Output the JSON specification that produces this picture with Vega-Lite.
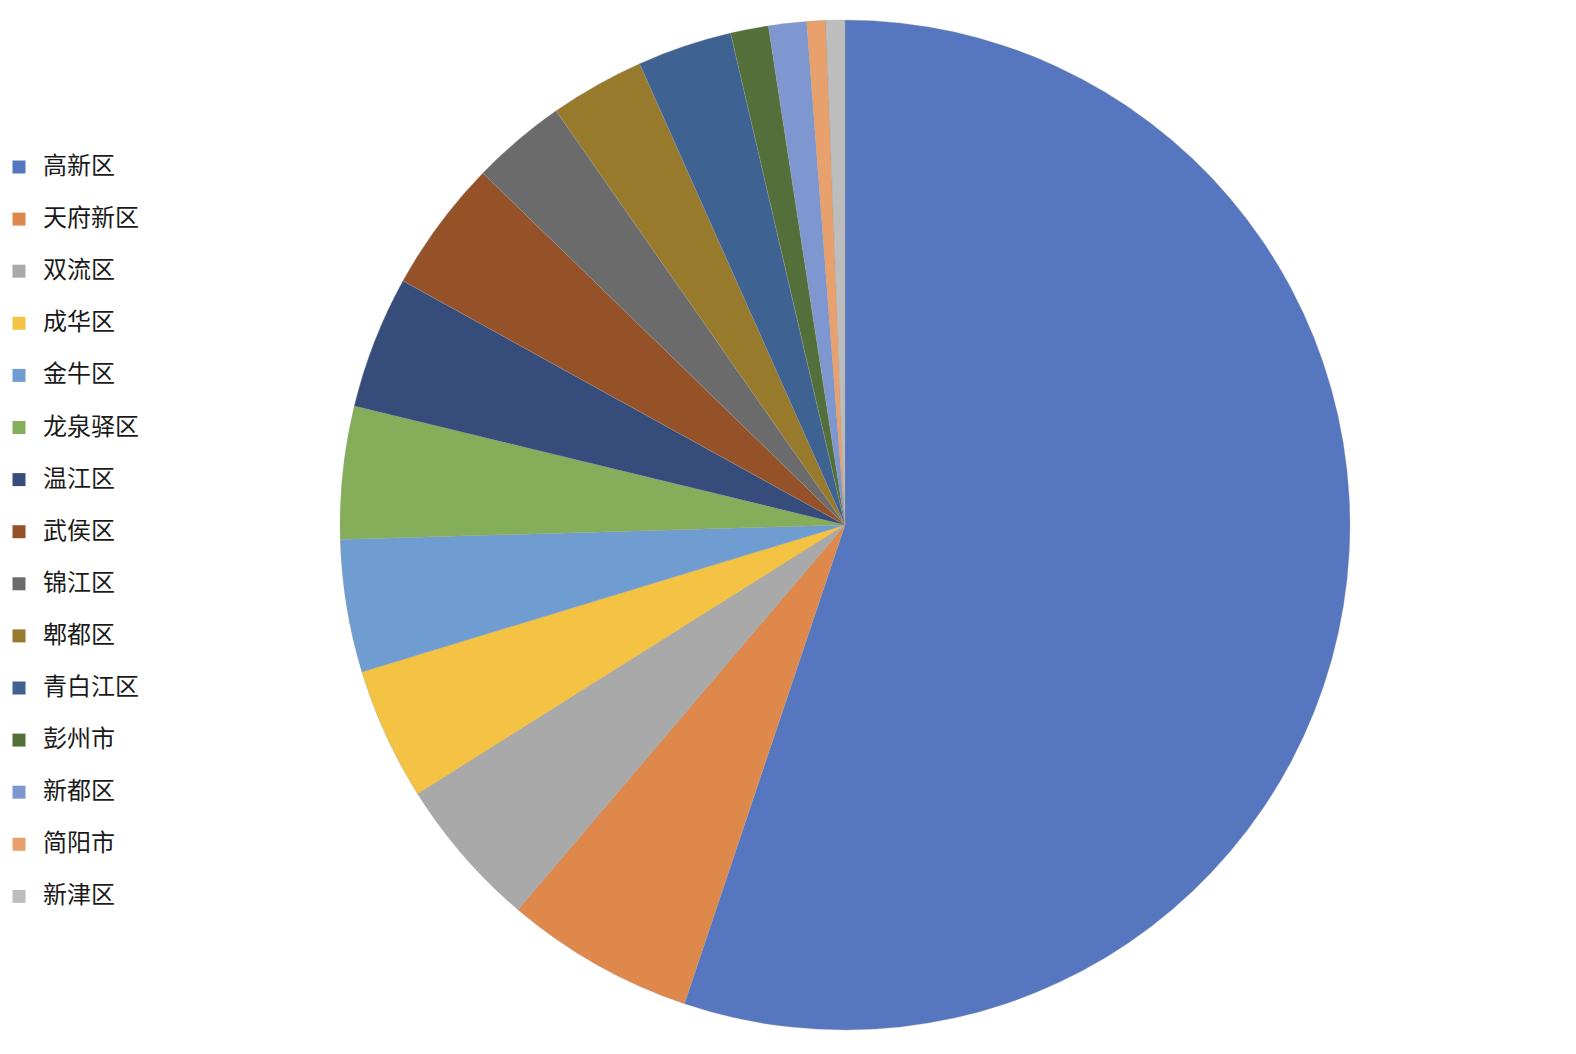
{
  "$schema": "https://vega.github.io/schema/vega-lite/v6.json",
  "width": 1490,
  "height": 1050,
  "autosize": {"type": "none"},
  "padding": {"left": 100, "top": 0, "right": 0, "bottom": 0},
  "background": "white",
  "view": {"stroke": null},
  "data": {
    "values": [
      {"序号": 1, "区域": "高新区", "计数": 91},
      {"序号": 2, "区域": "天府新区", "计数": 10},
      {"序号": 3, "区域": "双流区", "计数": 8},
      {"序号": 4, "区域": "成华区", "计数": 7},
      {"序号": 5, "区域": "金牛区", "计数": 7},
      {"序号": 6, "区域": "龙泉驿区", "计数": 7},
      {"序号": 7, "区域": "温江区", "计数": 7},
      {"序号": 8, "区域": "武侯区", "计数": 7},
      {"序号": 9, "区域": "锦江区", "计数": 5},
      {"序号": 10, "区域": "郫都区", "计数": 5},
      {"序号": 11, "区域": "青白江区", "计数": 5},
      {"序号": 12, "区域": "彭州市", "计数": 2},
      {"序号": 13, "区域": "新都区", "计数": 2},
      {"序号": 14, "区域": "简阳市", "计数": 1},
      {"序号": 15, "区域": "新津区", "计数": 1}
    ]
  },
  "mark": {"type": "arc", "outerRadius": 505, "stroke": "#9a9a9a", "strokeWidth": 0.3},
  "encoding": {
    "theta": {"field": "计数", "type": "quantitative", "stack": true},
    "order": {"field": "序号", "type": "quantitative"},
    "color": {
      "field": "区域",
      "type": "nominal",
      "sort": null,
      "scale": {
        "domain": ["高新区", "天府新区", "双流区", "成华区", "金牛区", "龙泉驿区", "温江区", "武侯区", "锦江区", "郫都区", "青白江区", "彭州市", "新都区", "简阳市", "新津区"],
        "range": ["#5677C0", "#DF884B", "#A9A9A9", "#F5C344", "#6F9DD1", "#84AE5A", "#364D7C", "#955228", "#6B6B6B", "#977A2C", "#3E6292", "#54703A", "#7F97D1", "#E8A16D", "#BDBDBD"]
      },
      "legend": {
        "orient": "none",
        "legendX": -93,
        "legendY": 155,
        "title": null,
        "padding": 0,
        "symbolType": "square",
        "symbolSize": 169,
        "symbolStrokeWidth": 0,
        "labelFont": "Noto Sans CJK SC",
        "labelFontSize": 24,
        "labelColor": "#1a1a1a",
        "labelOffset": 12,
        "rowPadding": 28.1,
        "labelLimit": 300
      }
    }
  }
}
